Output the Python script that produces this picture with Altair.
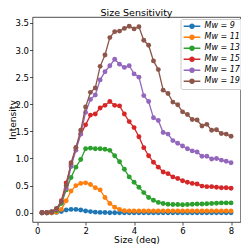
import altair as alt
import pandas as pd

sizes = [0.2, 0.4, 0.6, 0.8, 1.0, 1.2, 1.4, 1.6, 1.8, 2.0,
         2.2, 2.4, 2.6, 2.8, 3.0, 3.2, 3.4, 3.6, 3.8, 4.0,
         4.2, 4.4, 4.6, 4.8, 5.0, 5.2, 5.4, 5.6, 5.8, 6.0,
         6.2, 6.4, 6.6, 6.8, 7.0, 7.2, 7.4, 7.6, 7.8, 8.0]

mw_values = [9, 11, 13, 15, 17, 19]

mw9 = [0, 0, 0, 0.005, 0.02, 0.05, 0.06, 0.06, 0.05, 0.03,
       0.02, 0.01, 0.005, 0.003, 0, 0, 0, 0, 0, 0,
       0, 0, 0, 0, 0, 0, 0, 0, 0, 0,
       0, 0, 0, 0, 0, 0, 0, 0, 0, 0]
mw11 = [0, 0, 0, 0.01, 0.06, 0.22, 0.40, 0.50, 0.54, 0.55,
        0.52, 0.46, 0.42, 0.28, 0.17, 0.10, 0.06, 0.035, 0.03, 0.03,
        0.03, 0.03, 0.03, 0.03, 0.03, 0.03, 0.03, 0.03, 0.03, 0.03,
        0.03, 0.03, 0.03, 0.03, 0.03, 0.03, 0.03, 0.03, 0.03, 0.03]
mw13 = [0, 0, 0.01, 0.04, 0.17, 0.42, 0.65, 0.84, 0.98, 1.18,
        1.19, 1.18, 1.18, 1.17, 1.15, 1.05, 0.94, 0.80, 0.66, 0.56,
        0.47, 0.37, 0.28, 0.23, 0.19, 0.17, 0.155, 0.15, 0.15, 0.145,
        0.15, 0.155, 0.16, 0.16, 0.165, 0.17, 0.175, 0.18, 0.18, 0.18]
mw15 = [0, 0, 0.01, 0.06, 0.22, 0.55, 0.88, 1.20, 1.45, 1.62,
        1.80, 1.82, 1.93, 1.98, 2.05, 1.98, 1.97, 1.82, 1.68, 1.57,
        1.40, 1.20, 1.05, 0.93, 0.84, 0.75, 0.72, 0.66, 0.63, 0.59,
        0.56, 0.54, 0.53, 0.49, 0.48, 0.48, 0.47, 0.46, 0.46, 0.45]
mw17 = [0, 0, 0.02, 0.07, 0.20, 0.45, 0.85, 1.15, 1.45, 1.85,
        2.09, 2.17, 2.45, 2.60, 2.71, 2.83, 2.74, 2.68, 2.71, 2.56,
        2.50, 2.16, 2.05, 1.75, 1.70, 1.48, 1.45, 1.33, 1.28, 1.23,
        1.18, 1.14, 1.12, 1.04, 1.04, 0.99, 1.00, 0.97, 0.95, 0.92]
mw19 = [0, 0, 0.02, 0.08, 0.20, 0.50, 0.92, 1.20, 1.52, 1.95,
        2.22, 2.30, 2.70, 2.91, 3.23, 3.34, 3.35, 3.40, 3.44, 3.39,
        3.43, 3.18, 3.09, 2.80, 2.64, 2.26, 2.20, 2.04, 1.99, 1.86,
        1.81, 1.72, 1.71, 1.60, 1.63, 1.52, 1.53, 1.46, 1.45, 1.41]

series = [mw9, mw11, mw13, mw15, mw17, mw19]
colors = ["#1f77b4", "#ff7f0e", "#2ca02c", "#d62728", "#9467bd", "#8c564b"]
labels = [f"M\u1d21 = {m}" for m in mw_values]

rows = []
for m, lab, vals in zip(mw_values, labels, series):
    for s, v in zip(sizes, vals):
        rows.append({"size": s, "intensity": v, "mw": m, "label": lab})
df = pd.DataFrame(rows)

FONT = "DejaVu Sans"
W, H = 208, 205

xenc = alt.X("size:Q",
             scale=alt.Scale(domain=[-0.19, 8.39], nice=False, zero=False),
             axis=alt.Axis(values=[0, 2, 4, 6, 8], title="Size (deg)",
                           titleY=20, titleBaseline="alphabetic",
                           labelPadding=1.5))
yenc = alt.Y("intensity:Q",
             scale=alt.Scale(domain=[-0.172, 3.61], nice=False, zero=False),
             axis=alt.Axis(values=[0, 0.5, 1.0, 1.5, 2.0, 2.5, 3.0, 3.5],
                           format=".1f", title="Intensity",
                           titleX=-17.5, titleY=H / 2, titleAngle=270,
                           titleBaseline="alphabetic", labelPadding=1))

sym_path = "M-1,0L1,0M-0.25,0A0.25,0.25,0,1,0,0.25,0A0.25,0.25,0,1,0,-0.25,0Z"

cenc = alt.Color("label:N",
                 scale=alt.Scale(domain=labels, range=colors),
                 sort=labels,
                 legend=alt.Legend(title=None, orient="none", legendX=148, legendY=2,
                                   fillColor="rgba(255,255,255,0.85)",
                                   strokeColor="#cccccc", cornerRadius=2,
                                   padding=2, labelFontSize=8, labelFont=FONT,
                                   labelFontStyle="italic",
                                   symbolType=sym_path, symbolSize=279,
                                   symbolStrokeWidth=1.4, clipHeight=10.5,
                                   rowPadding=0, labelOffset=3))

base = alt.Chart(df)
layers = []
for m in mw_values:
    sub = base.transform_filter(alt.datum.mw == m)
    layers.append(sub.mark_line(strokeWidth=1.3).encode(x=xenc, y=yenc, color=cenc))
    layers.append(sub.mark_circle(size=24, opacity=1).encode(x=xenc, y=yenc, color=cenc))

chart = alt.layer(*layers).properties(
    width=W, height=H,
    padding={"left": 24.5, "top": 9, "right": 0.5, "bottom": 22},
    autosize=alt.AutoSizeParams(type="none"),
    title=alt.TitleParams("Size Sensitivity", fontSize=9.5, font=FONT,
                          fontWeight="normal", anchor="middle", baseline="alphabetic",
                          offset=1.5, dy=10, frame="group", color="black"),
).configure_view(
    stroke="#222222", strokeWidth=0.8
).configure_axis(
    grid=False, domain=False, tickColor="#222222", tickWidth=0.8, tickSize=3,
    labelFont=FONT, labelFontSize=8.5, labelColor="black",
    titleFont=FONT, titleFontSize=9.1, titleFontWeight="normal", titleColor="black"
)

chart.save("out.html", embed_options={"renderer": "svg", "actions": False})
